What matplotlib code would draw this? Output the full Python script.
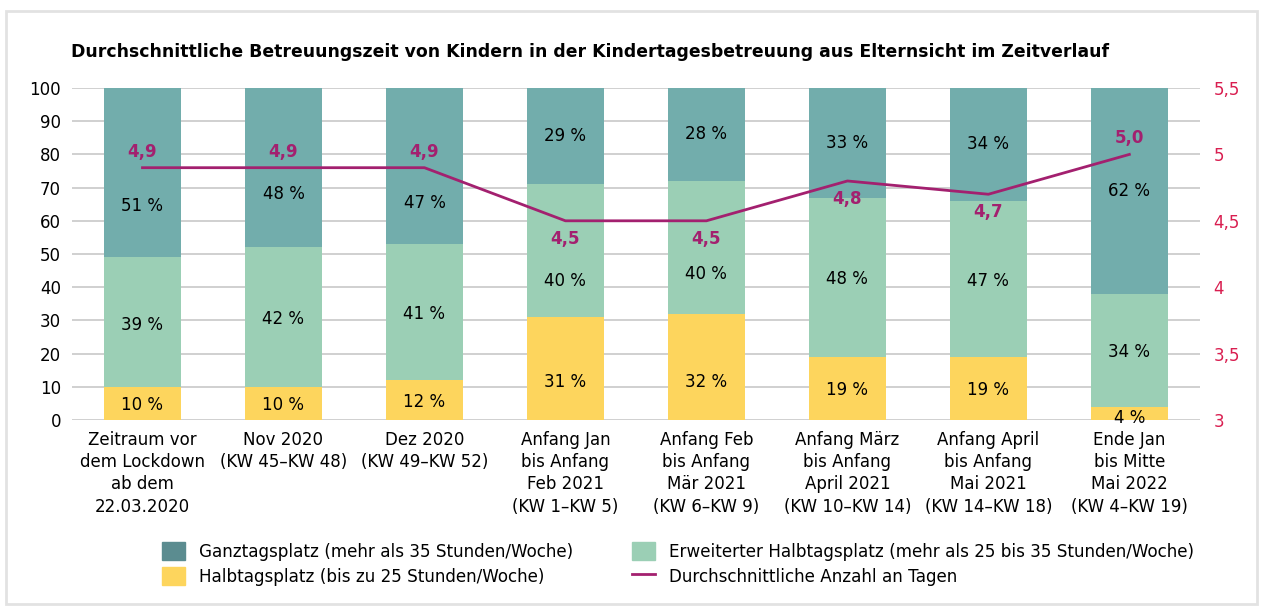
import matplotlib.pyplot as plt
import matplotlib.patches as mpatches
from matplotlib.lines import Line2D
import numpy as np

categories = ['Zeitraum vor\ndem Lockdown\nab dem\n22.03.2020',
              'Nov 2020\n(KW 45–KW 48)',
              'Dez 2020\n(KW 49–KW 52)',
              'Anfang Jan\nbis Anfang\nFeb 2021\n(KW 1–KW 5)',
              'Anfang Feb\nbis Anfang\nMär 2021\n(KW 6–KW 9)',
              'Anfang März\nbis Anfang\nApril 2021\n(KW 10–KW 14)',
              'Anfang April\nbis Anfang\nMai 2021\n(KW 14–KW 18)',
              'Ende Jan\nbis Mitte\nMai 2022\n(KW 4–KW 19)']
halbtags = [10, 10, 12, 31, 32, 19, 19, 4]
erweitert = [39, 42, 41, 40, 40, 48, 47, 34]
ganztags = [51, 48, 47, 29, 28, 33, 34, 62]
tage = [4.9, 4.9, 4.9, 4.5, 4.5, 4.8, 4.7, 5.0]

c_halb = '#fdd55d'
c_erw = '#9bcfb5'
c_ganz = '#72adac'
c_ganz_leg = '#5b8c90'
c_line = '#a3206f'
c_right = '#d91e50'

plt.rcParams['font.family'] = ['DejaVu Sans']

fig = plt.figure(figsize=(12.63, 6.10), dpi=100)
ax = fig.add_axes([0.057, 0.3115, 0.893, 0.5442])
ax2 = ax.twinx()

x = np.arange(len(categories))
w = 0.55
halb = np.array(halbtags)
erw = np.array(erweitert)
ganz = np.array(ganztags)

ax.bar(x, halb, w, color=c_halb, zorder=2)
ax.bar(x, erw, w, bottom=halb, color=c_erw, zorder=2)
ax.bar(x, ganz, w, bottom=halb + erw, color=c_ganz, zorder=2)

# label nudges (in data units) to keep clear of the line labels
nudge_ganz = [-10, -8, -11, 0, 0, 0, 0, 0]
nudge_erw = [-1, -0.5, -0.5, -9, -8, -0.5, -0.5, -0.5]
nudge_halb = [-0.5, -0.5, -0.5, -4, -4.5, -0.5, -0.5, -1.5]
for i in range(len(x)):
    ax.text(x[i], halb[i] / 2 + nudge_halb[i], f'{halb[i]} %', ha='center', va='center', fontsize=12, zorder=4)
    ax.text(x[i], halb[i] + erw[i] / 2 + nudge_erw[i], f'{erw[i]} %', ha='center', va='center', fontsize=12, zorder=4)
    ax.text(x[i], halb[i] + erw[i] + ganz[i] / 2 + nudge_ganz[i], f'{ganz[i]} %', ha='center', va='center',
            fontsize=12, zorder=4)

ax.set_xlim(-0.5, len(x) - 0.5)
ax.set_ylim(0, 100)
ax.set_yticks(range(0, 101, 10))
ax.set_xticks(x, categories, linespacing=1.3)
ax.yaxis.grid(True, color='#c8c8c8', linewidth=1.2)
ax.set_axisbelow(True)
ax.tick_params(axis='y', length=0, labelsize=12, pad=8)
ax.tick_params(axis='x', length=0, labelsize=12, pad=8)
for s in ax.spines.values():
    s.set_visible(False)

ax2.plot(x, tage, color=c_line, linewidth=2, zorder=5)
ax2.set_ylim(3, 5.5)
ax2.set_yticks([3, 3.5, 4, 4.5, 5, 5.5], ['3', '3,5', '4', '4,5', '5', '5,5'])
ax2.tick_params(axis='y', length=0, labelsize=12, labelcolor=c_right, pad=10)
for s in ax2.spines.values():
    s.set_visible(False)

line_offsets = [11, 11, 11, -13, -13, -13, -13, 12]
for i in range(len(x)):
    ax2.annotate(f'{tage[i]:.1f}'.replace('.', ','), (x[i], tage[i]), xytext=(0, line_offsets[i]),
                 textcoords='offset points', ha='center', va='center', color=c_line,
                 fontsize=12, fontweight='bold', zorder=6)

fig.text(0.056, 0.915, 'Durchschnittliche Betreuungszeit von Kindern in der Kindertagesbetreuung aus Elternsicht im Zeitverlauf',
         fontsize=12.4, fontweight='bold', ha='left', va='center')

handles = [mpatches.Patch(color=c_ganz_leg), mpatches.Patch(color=c_halb),
           mpatches.Patch(color=c_erw), Line2D([0], [0], color=c_line, linewidth=2)]
labels = ['Ganztagsplatz (mehr als 35 Stunden/Woche)', 'Halbtagsplatz (bis zu 25 Stunden/Woche)',
          'Erweiterter Halbtagsplatz (mehr als 25 bis 35 Stunden/Woche)', 'Durchschnittliche Anzahl an Tagen']
fig.legend(handles, labels, ncol=2, loc='upper left', bbox_to_anchor=(0.116, 0.136), frameon=False,
           fontsize=12.1, handlelength=1.4, handleheight=1.3, columnspacing=3.5, labelspacing=0.35)

fig.add_artist(mpatches.Rectangle((0.005, 0.01), 0.99, 0.972, transform=fig.transFigure, fill=False,
                                  edgecolor='#e2e2e2', linewidth=2))

fig.savefig('out.png', dpi=100, facecolor='white')
